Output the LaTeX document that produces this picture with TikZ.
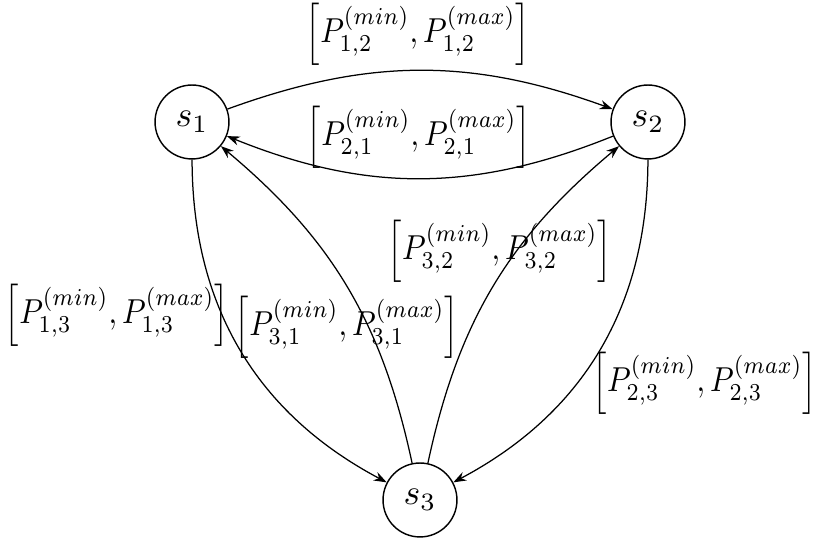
\documentclass[tikz,border=0pt]{standalone}
\usetikzlibrary{arrows.meta}
\newcommand\Pint[1]{\scalebox{0.85}[0.97]{$\left[P^{(min)}_{#1},P^{(max)}_{#1}\right]$}}
\begin{document}
\begin{tikzpicture}[x=0.28pt,y=-0.28pt,
  state/.style={circle,draw,minimum size=20.7pt,inner sep=0pt},
  edge/.style={-{Stealth[length=3.6pt,width=2.6pt]},line width=0.35pt},
  lab/.style={inner sep=0pt}]
\useasboundingbox (0,0) rectangle (815,540);
\node[state] (s1) at (192,122) {$s_1$};
\node[state] (s2) at (648,122) {$s_2$};
\node[state] (s3) at (420,500) {$s_3$};
\draw[edge] (s1) to[bend left=20] (s2);
\draw[edge] (s2) to[bend left=22] (s1);
\draw[edge] (s1) to[bend right=31] (s3);
\draw[edge] (s2) to[bend left=31] (s3);
\draw[edge] (s3) to[bend right=19] (s1);
\draw[edge] (s3) to[bend left=19] (s2);
\node[lab] (l12) at (418,34) {\Pint{1,2}};
\node[lab] (l21) at (419,137) {\Pint{2,1}};
\node[lab] (l32) at (500,251) {\Pint{3,2}};
\node[lab] (l13) at (117,315) {\Pint{1,3}};
\node[lab] (l31) at (347,327) {\Pint{3,1}};
\node[lab] (l23) at (705,383) {\Pint{2,3}};
\end{tikzpicture}
\end{document}
